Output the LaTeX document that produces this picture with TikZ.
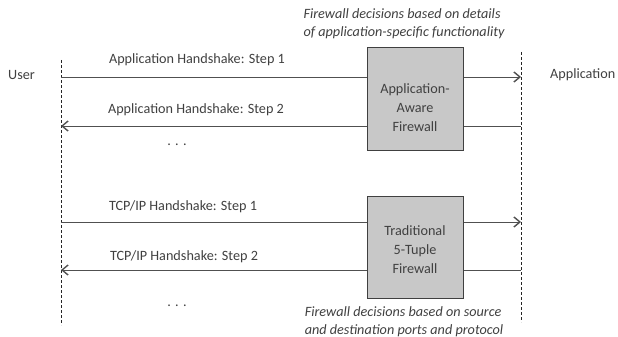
\documentclass[tikz,border=0pt]{standalone}
\usepackage{fontspec}
\setmainfont{Carlito}
\usetikzlibrary{arrows.meta}
\definecolor{txt}{HTML}{404040}
\definecolor{boxfill}{HTML}{C8C8C8}
\definecolor{ln}{HTML}{505050}
\begin{document}
\begin{tikzpicture}[x=1pt,y=-1pt,
  lifeline/.style={draw=black!85, line width=0.7pt, dash pattern=on 3pt off 2pt},
  msg/.style={draw=ln, line width=0.9pt},
  msgarrow/.style={msg, -{Straight Barb[length=6pt,width=10pt,line width=1.4pt]}},
  fwbox/.style={draw=black!75, fill=boxfill, line width=1pt, minimum width=96pt, minimum height=102pt, inner sep=0pt},
  lbl/.style={text=txt, font=\fontsize{14.2}{16}\selectfont, inner sep=0pt},
  boxtxt/.style={text=txt, font=\fontsize{14.2}{19}\selectfont, align=center, inner sep=0pt},
  note/.style={text=txt, font=\fontsize{14.2}{18}\selectfont\itshape, align=left, inner sep=0pt}
]
\useasboundingbox (0,0) rectangle (618,337);
% lifelines
\coordinate (u1) at (61,60);
\coordinate (u2) at (61,325);
\coordinate (a1) at (521,52);
\coordinate (a2) at (521,322);
\path[lifeline] (u1) -- (u2);
\path[lifeline] (a1) -- (a2);
\node[lbl, anchor=west] (user) at (8,75) {User};
\node[lbl, anchor=west] (app) at (550,75) {Application};
% boxes
\node[fwbox] (fw1) at (415,99) {};
\node[boxtxt] (fw1t) at (415,108) {Application-\\Aware\\Firewall};
\node[fwbox] (fw2) at (415,247.5) {};
\node[boxtxt] (fw2t) at (415,250) {Traditional\\5-Tuple\\Firewall};
% endpoints
\coordinate (m1s) at (61,77);  \coordinate (m1e) at (521,77);
\coordinate (m2s) at (521,126); \coordinate (m2e) at (61,126);
\coordinate (m3s) at (61,222); \coordinate (m3e) at (521,222);
\coordinate (m4s) at (521,270); \coordinate (m4e) at (61,270);
\draw[msg] (m1s) -- (fw1.west|-m1s);
\draw[msgarrow] (fw1.east|-m1e) -- (m1e);
\draw[msg] (m2s) -- (fw1.east|-m2s);
\draw[msgarrow] (fw1.west|-m2e) -- (m2e);
\draw[msg] (m3s) -- (fw2.west|-m3s);
\draw[msgarrow] (fw2.east|-m3e) -- (m3e);
\draw[msg] (m4s) -- (fw2.east|-m4s);
\draw[msgarrow] (fw2.west|-m4e) -- (m4e);
% labels
\node[lbl] (l1) at (197,60) {Application Handshake: Step 1};
\node[lbl] (l2) at (196,110) {Application Handshake: Step 2};
\node[lbl] (d1) at (177,145) {. . .};
\node[lbl] (l3) at (183,207) {TCP/IP Handshake: Step 1};
\node[lbl] (l4) at (184,257) {TCP/IP Handshake: Step 2};
\node[lbl] (d2) at (177,306) {. . .};
% notes
\node[note] (n1) at (404,24) {Firewall decisions based on details\\of application-specific functionality};
\node[note] (n2) at (404,322) {Firewall decisions based on source\\and destination ports and protocol};
\end{tikzpicture}
\end{document}
